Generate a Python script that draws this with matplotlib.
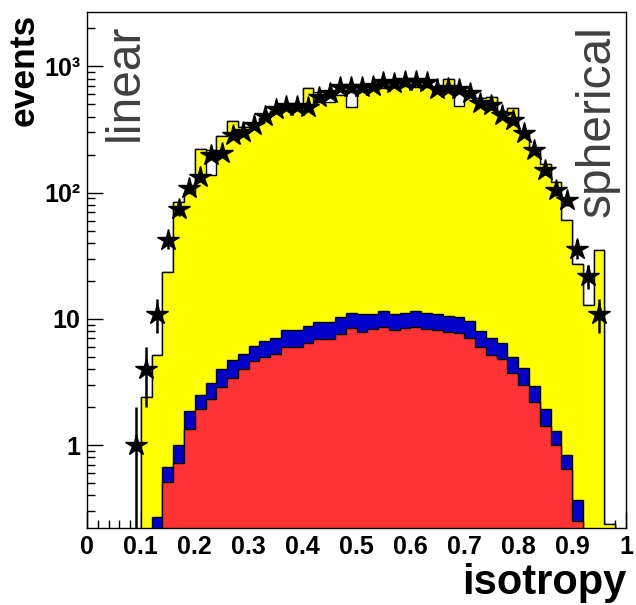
import numpy as np
import matplotlib
matplotlib.use("Agg")
import matplotlib.pyplot as plt
from matplotlib.ticker import FixedLocator, MultipleLocator, LogLocator, NullFormatter

plt.rcParams['font.family'] = ['Liberation Sans', 'DejaVu Sans']

# 50 bins of isotropy, 0 .. 1
n_bins = 50

# white histogram (only visible in a few notches)
h_white = [0, 0, 0, 0, 0, 2.4, 5.2, 23.5, 84, 100,
           220, 218, 280, 372, 333, 355, 390, 440, 470, 470,
           675, 630, 630, 590, 625, 640, 660, 680, 690, 700,
           690, 690, 640, 790, 680, 590, 560, 570, 440, 470,
           300, 220, 170, 121, 61, 27, 12.9, 35, 0.235, 0]

# yellow histogram
h_yellow = [0, 0, 0, 0, 0, 2.4, 5.2, 23.5, 84, 100,
            220, 138, 280, 372, 333, 355, 390, 440, 470, 470,
            675, 525, 525, 590, 477, 640, 660, 680, 690, 700,
            690, 690, 640, 790, 485, 590, 560, 570, 440, 470,
            300, 220, 170, 121, 61, 27, 12.9, 35, 0.235, 0]

# blue (stacked on red) and red
h_blue = [0, 0, 0, 0, 0, 0, 0.27, 0.67, 1.0, 1.87,
          2.49, 3.1, 4.0, 4.7, 5.3, 6.1, 6.7, 7.0, 8.1, 8.1,
          8.8, 9.5, 9.5, 10.4, 11.2, 10.9, 11.0, 11.5, 11.0, 11.2,
          11.5, 11.2, 11.0, 10.6, 10.4, 9.6, 8.0, 7.1, 6.4, 5.0,
          4.1, 2.95, 1.92, 1.3, 0.84, 0.37, 0, 0, 0, 0]
h_red = [0, 0, 0, 0, 0, 0, 0, 0.51, 0.72, 1.34,
         1.93, 2.31, 2.9, 3.4, 4.0, 4.6, 5.0, 5.25, 6.0, 6.0,
         6.4, 6.9, 6.9, 7.6, 8.4, 7.9, 8.3, 8.6, 8.2, 8.4,
         8.6, 8.3, 8.2, 7.9, 7.75, 7.1, 5.95, 5.2, 4.8, 3.7,
         3.0, 2.2, 1.41, 1.0, 0.645, 0.25, 0, 0, 0, 0]

# data points (stars)
h_data = [0, 0, 0, 0, 1, 4, 11, 42, 74, 109,
          133, 199, 207, 286, 303, 343, 405, 460, 487, 487,
          477, 570, 617, 690, 690, 687, 700, 752, 738, 766,
          766, 752, 660, 675, 665, 615, 512, 495, 412, 376,
          296, 218, 151, 105, 87, 36, 22, 11, 0, 0]

xtick_labels = ['0', '0.1', '0.2', '0.3', '0.4', '0.5', '0.6', '0.7', '0.8', '0.9', '1']
ytick_vals = [1, 10, 100, 1000]
ytick_labels = ['1', '10', '10²', '10³']

edges = np.linspace(0, 1, n_bins + 1)
centers = 0.5 * (edges[:-1] + edges[1:])
base = 1e-3

fig = plt.figure(figsize=(6.36, 6.05), dpi=100)
ax = fig.add_axes([87 / 636, 77 / 605, 539 / 636, 516 / 605])
ax.set_yscale('log')


def draw_hist(vals, color, z):
    v = np.asarray(vals, dtype=float)
    v = np.where(v > 0, v, base)
    ax.stairs(v, edges, baseline=base, fill=True, facecolor=color,
              edgecolor='black', linewidth=1.0, zorder=z)


draw_hist(h_white, 'white', 1)
draw_hist(h_yellow, '#ffff00', 2)
draw_hist(h_blue, '#0000cc', 3)
draw_hist(h_red, '#ff3333', 4)

d = np.asarray(h_data, dtype=float)
m = d > 0
err = np.sqrt(d[m])
lo = np.minimum(err, d[m] - 1e-3)
ax.errorbar(centers[m], d[m], yerr=[lo, err], fmt='none', ecolor='black',
            elinewidth=1.8, capsize=0, zorder=5)
ax.plot(centers[m], d[m], '*', color='black', ms=16, mec='black', zorder=6)

ax.set_xlim(0, 1)
ax.set_ylim(0.22, 2700)

tick_font = ['Liberation Sans Narrow', 'Liberation Sans']
ax.xaxis.set_major_locator(FixedLocator(np.linspace(0, 1, 11)))
ax.set_xticklabels(xtick_labels, fontsize=18, fontweight='bold', family=tick_font)
ax.xaxis.set_minor_locator(MultipleLocator(0.02))
ax.yaxis.set_major_locator(FixedLocator(ytick_vals))
ax.set_yticklabels(ytick_labels, fontsize=18, fontweight='bold', family=tick_font)
ax.yaxis.set_minor_locator(LogLocator(base=10, subs=np.arange(2, 10)))
ax.yaxis.set_minor_formatter(NullFormatter())

ax.tick_params(which='both', direction='in', top=False, right=False, width=1)
ax.tick_params(which='major', length=11.5, pad=5)
ax.tick_params(which='minor', length=6)
for s in ax.spines.values():
    s.set_linewidth(1.0)
    s.set_zorder(10)

fig.text(24 / 636, 1 - 70 / 605, 'events', rotation=90, ha='center', va='center',
         fontsize=25.5, fontweight='bold')
fig.text(626 / 636, (605 - 594) / 605, 'isotropy', ha='right', va='baseline',
         fontsize=30, fontweight='bold')

ax.text(0.0705, 0.977, 'linear', rotation=90, ha='center', va='top',
        fontsize=34.5, color='#404040', transform=ax.transAxes, zorder=7)
ax.text(0.947, 0.975, 'spherical', rotation=90, ha='center', va='top',
        fontsize=34.5, color='#404040', transform=ax.transAxes, zorder=7)

fig.savefig('out.png', dpi=100)
